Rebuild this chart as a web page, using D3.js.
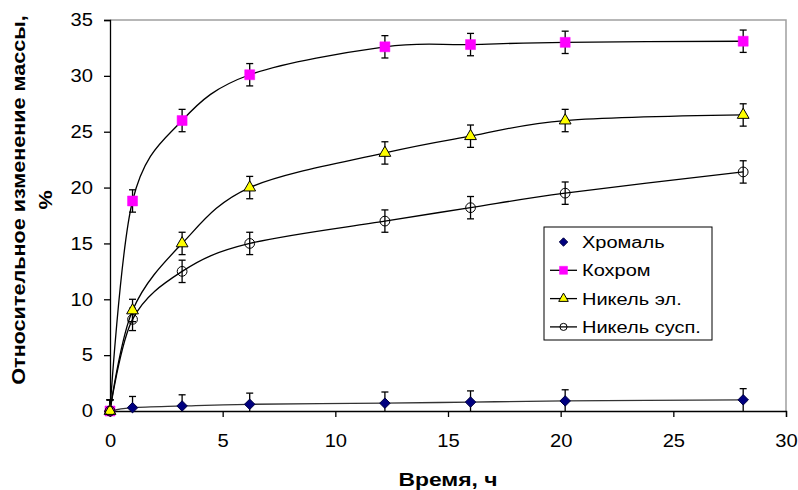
<!DOCTYPE html>
<html>
<head>
<meta charset="utf-8">
<script src="https://cdn.jsdelivr.net/npm/d3@7"></script>
<style>
  body { margin: 0; background: #fff; }
  text { font-family: Arial, "Liberation Sans", sans-serif; fill: #000; }
</style>
</head>
<body>
<svg id="chart" width="798" height="490"></svg>
<script>
const WIDTH = 798;
const HEIGHT = 490;

const hours = [0, 1, 3.2, 6.2, 12.2, 16, 20.2, 28.1];
const chromal = [0, 0.3, 0.45, 0.6, 0.7, 0.8, 0.9, 1.0];
const kochrom = [0, 18.8, 26, 30.1, 32.6, 32.8, 33, 33.1];
const nickelEl = [0, 9, 15, 20, 23.1, 24.6, 26, 26.5];
const nickelSusp = [0, 8.2, 12.5, 15, 17, 18.2, 19.5, 21.4];
const errorSize = 1;

const xTicks = [0, 5, 10, 15, 20, 25, 30];
const yTicks = [0, 5, 10, 15, 20, 25, 30, 35];

const series = [
  { name: 'Хромаль', values: chromal, symbol: 'diamond', showLine: false },
  { name: 'Кохром', values: kochrom, symbol: 'square', showLine: true },
  { name: 'Никель эл.', values: nickelEl, symbol: 'triangle', showLine: true },
  { name: 'Никель сусп.', values: nickelSusp, symbol: 'circle', showLine: true },
];

const margin = { top: 20, right: 12, bottom: 79, left: 110 };
const svg = d3.select('#chart');

// the original text is drawn a bit wider than the font's own metrics
function widen(sel, k) {
  sel.each(function () {
    const len = this.getComputedTextLength();
    d3.select(this).attr('textLength', len * k).attr('lengthAdjust', 'spacingAndGlyphs');
  });
}

// scales
const x = d3.scaleLinear().domain([0, 30]).range([margin.left, WIDTH - margin.right]);
const y = d3.scaleLinear().domain([0, 35]).range([HEIGHT - margin.bottom, margin.top]);

// plot frame (gray top and right)
svg.append('path')
  .attr('d', `M${x(0)},${y(35)}H${x(30)}V${y(0)}`)
  .attr('fill', 'none')
  .attr('stroke', '#a0a0a0')
  .attr('stroke-width', 1.5);

// axes
const xAxis = svg.append('g')
  .attr('transform', `translate(0,${y(0)})`)
  .call(d3.axisBottom(x).tickValues(xTicks).tickSize(6).tickPadding(17).tickFormat(d3.format('d')));
const yAxis = svg.append('g')
  .attr('transform', `translate(${x(0)},0)`)
  .call(d3.axisLeft(y).tickValues(yTicks).tickSize(6).tickPadding(11).tickFormat(d3.format('d')));
[xAxis, yAxis].forEach((ax) => {
  ax.select('.domain').attr('stroke', '#000').attr('stroke-width', 1.3);
  ax.selectAll('.tick line').attr('stroke', '#000').attr('stroke-width', 1.3);
  ax.selectAll('.tick text')
    .style('font-size', '18px')
    .style('font-family', 'Arial, "Liberation Sans", sans-serif')
    .call(widen, 1.12);
});

// axis titles
svg.append('text')
  .attr('x', (x(0) + x(30)) / 2)
  .attr('y', 486)
  .attr('text-anchor', 'middle')
  .style('font-weight', 'bold')
  .style('font-size', '18px')
  .text('Время, ч')
  .call(widen, 1.27);

const yTitle = svg.append('text')
  .attr('transform', 'translate(25,200) rotate(-90)')
  .attr('text-anchor', 'middle')
  .style('font-weight', 'bold')
  .style('font-size', '18px');
yTitle.append('tspan').attr('x', 0).attr('y', 0).text('Относительное изменение массы,').call(widen, 1.2);
yTitle.append('tspan').attr('x', 0).attr('y', 27).text('%').call(widen, 1.2);

const symbols = {
  diamond: d3.symbol().type(d3.symbolDiamond2).size(70),
  square: d3.symbol().type(d3.symbolSquare).size(100),
  triangle: d3.symbol().type(d3.symbolTriangle).size(60),
  circle: d3.symbol().type(d3.symbolCircle).size(75),
};

function styleMarker(sel, s) {
  if (s === 'diamond') sel.attr('fill', '#000080').attr('stroke', '#000040').attr('stroke-width', 1);
  if (s === 'square') sel.attr('fill', '#ff00ff').attr('stroke', '#ff00ff').attr('stroke-width', 0.5);
  if (s === 'triangle') sel.attr('fill', '#ffff00').attr('stroke', '#000').attr('stroke-width', 1);
  if (s === 'circle') sel.attr('fill', 'none').attr('stroke', '#000').attr('stroke-width', 1);
}

const line = d3.line()
  .x((d) => x(d[0]))
  .y((d) => y(d[1]))
  .curve(d3.curveCardinal.tension(0));

series.forEach((s) => {
  const pts = hours.map((h, i) => [h, s.values[i]]);
  svg.append('path')
    .datum(pts)
    .attr('d', line)
    .attr('fill', 'none')
    .attr('stroke', s.symbol === 'diamond' ? '#333' : '#000')
    .attr('stroke-width', 1.3);
});

// error bars
series.forEach((s) => {
  const g = svg.append('g');
  hours.forEach((h, i) => {
    const v = s.values[i];
    const lo = Math.max(0, v - errorSize);
    const hi = v + errorSize;
    g.append('line')
      .attr('x1', x(h)).attr('x2', x(h))
      .attr('y1', y(lo)).attr('y2', y(hi))
      .attr('stroke', '#000').attr('stroke-width', 1.3);
    [lo, hi].forEach((e) => {
      if (e === 0) return;
      g.append('line')
        .attr('x1', x(h) - 3.5).attr('x2', x(h) + 3.5)
        .attr('y1', y(e)).attr('y2', y(e))
        .attr('stroke', '#000').attr('stroke-width', 1.3);
    });
  });
});

// markers
series.forEach((s) => {
  svg.append('g').selectAll('path')
    .data(hours.map((h, i) => [h, s.values[i]]))
    .join('path')
    .attr('d', symbols[s.symbol])
    .attr('transform', (d) => `translate(${x(d[0])},${y(d[1])})`)
    .call(styleMarker, s.symbol);
});

// legend
const legend = svg.append('g').attr('transform', 'translate(544,227)');
legend.append('rect')
  .attr('width', 168).attr('height', 113)
  .attr('fill', '#fff').attr('stroke', '#000').attr('stroke-width', 1);
const legendSymbol = {
  diamond: d3.symbol().type(d3.symbolDiamond2).size(45),
  square: d3.symbol().type(d3.symbolSquare).size(64),
  triangle: d3.symbol().type(d3.symbolTriangle).size(40),
  circle: d3.symbol().type(d3.symbolCircle).size(40),
};
series.forEach((s, i) => {
  const row = legend.append('g').attr('transform', `translate(0,${15 + i * 28.3})`);
  if (s.showLine) {
    row.append('line').attr('x1', 6).attr('x2', 33).attr('stroke', '#000').attr('stroke-width', 1.3);
  }
  row.append('path')
    .attr('d', legendSymbol[s.symbol]())
    .attr('transform', 'translate(19.5,0)')
    .call(styleMarker, s.symbol);
  row.append('text')
    .attr('x', 38).attr('y', 6)
    .style('font-size', '16px')
    .text(s.name)
    .call(widen, 1.25);
});
</script>
</body>
</html>
